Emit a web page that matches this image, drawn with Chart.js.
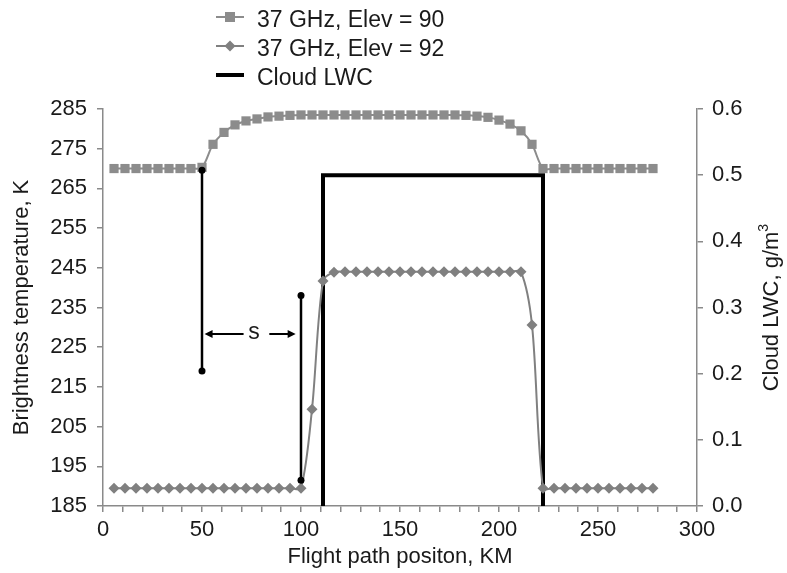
<!DOCTYPE html>
<html>
<head>
<meta charset="utf-8">
<script src="https://cdn.jsdelivr.net/npm/chart.js@4.4.1/dist/chart.umd.min.js"></script>
<style>
  html, body { margin: 0; padding: 0; background: #fff; }
  #wrap { position: relative; width: 787px; height: 573px; }
  #legend {
    position: absolute; left: 216px; top: 5px;
    font-family: "Liberation Sans", Arial, sans-serif; font-size: 23px; color: #1a1a1a;
  }
  #legend .row { display: flex; align-items: center; height: 29px; }
  #legend svg { margin-right: 13px; position: relative; top: -3px; }
</style>
</head>
<body>
<div id="wrap">
  <canvas id="chart"></canvas>
  <div id="legend"></div>
</div>
<script>
(function() {
    'use strict';

    // --- Data ---
    // flight path position of each sample (km)
    const positionKm = [5.56, 11.11, 16.67, 22.22, 27.78, 33.33, 38.89, 44.44, 50, 55.56,
        61.11, 66.67, 72.22, 77.78, 83.33, 88.89, 94.44, 100, 105.56, 111.11,
        116.67, 122.22, 127.78, 133.33, 138.89, 144.44, 150, 155.56, 161.11, 166.67,
        172.22, 177.78, 183.33, 188.89, 194.44, 200, 205.56, 211.11, 216.67, 222.22,
        227.78, 233.33, 238.89, 244.44, 250, 255.56, 261.11, 266.67, 272.22, 277.78];

    // 37 GHz, Elev = 90 (K)
    const tbElev90 = [270, 270, 270, 270, 270, 270, 270, 270, 270.3, 276.1,
        279.1, 281.0, 282.0, 282.5, 283.0, 283.2, 283.4, 283.5, 283.5, 283.5,
        283.5, 283.5, 283.5, 283.5, 283.5, 283.5, 283.5, 283.5, 283.5, 283.5,
        283.5, 283.5, 283.4, 283.2, 282.9, 282.2, 281.2, 279.5, 276.1, 270,
        270, 270, 270, 270, 270, 270, 270, 270, 270, 270];

    // 37 GHz, Elev = 92 (K)
    const tbElev92 = [189.5, 189.5, 189.5, 189.5, 189.5, 189.5, 189.5, 189.5, 189.5, 189.5,
        189.5, 189.5, 189.5, 189.5, 189.5, 189.5, 189.5, 189.5, 209.4, 241.7,
        243.9, 244, 244, 244, 244, 244, 244, 244, 244, 244,
        244, 244, 244, 244, 244, 244, 244, 244, 230.6, 189.5,
        189.5, 189.5, 189.5, 189.5, 189.5, 189.5, 189.5, 189.5, 189.5, 189.5];

    // Cloud LWC (g/m3) step
    const lwcKm = [111.11, 111.11, 222.22, 222.22];
    const lwcValues = [0, 0.5, 0.5, 0];

    // axis ticks
    const xTicks = [0, 10, 20, 30, 40, 50, 60, 70, 80, 90, 100, 110, 120, 130, 140, 150,
        160, 170, 180, 190, 200, 210, 220, 230, 240, 250, 260, 270, 280, 290, 300];
    const tbTicks = [185, 195, 205, 215, 225, 235, 245, 255, 265, 275, 285];
    const lwcTicks = [0, 0.1, 0.2, 0.3, 0.4, 0.5, 0.6];

    // "s" separation markers (km, K)
    const sMarkerKm = [50, 100];
    const sMarkerTop = [269.6, 238];
    const sMarkerBottom = [219, 191.5];
    const sArrowY = 228.3;

    const FONT = '"Liberation Sans", Arial, sans-serif';
    const AXIS_GREY = '#8a8a8a';
    const SQ_GREY = '#8c8c8c';
    const DIA_GREY = '#808080';

    function pts(xs, ys) {
        return xs.map((x, i) => ({ x: x, y: ys[i] }));
    }

    // --- Annotation plugin: separation bars, arrows and right axis title ---
    const annotations = {
        id: 'annotations',
        afterDatasetsDraw(chart) {
            const ctx = chart.ctx;
            const xs = chart.scales.x, ys = chart.scales.y;
            ctx.save();
            ctx.strokeStyle = '#000';
            ctx.fillStyle = '#000';
            ctx.lineWidth = 2.5;
            sMarkerKm.forEach((km, i) => {
                const px = xs.getPixelForValue(km);
                const top = ys.getPixelForValue(sMarkerTop[i]);
                const bot = ys.getPixelForValue(sMarkerBottom[i]);
                ctx.beginPath();
                ctx.moveTo(px, top);
                ctx.lineTo(px, bot);
                ctx.stroke();
                [top, bot].forEach(py => {
                    ctx.beginPath();
                    ctx.arc(px, py, 3.5, 0, Math.PI * 2);
                    ctx.fill();
                });
            });

            const ay = ys.getPixelForValue(sArrowY);
            const lx0 = xs.getPixelForValue(51.3), lx1 = xs.getPixelForValue(71);
            const rx0 = xs.getPixelForValue(84), rx1 = xs.getPixelForValue(97.3);
            ctx.lineWidth = 2;
            ctx.beginPath();
            ctx.moveTo(lx0 + 6, ay); ctx.lineTo(lx1, ay);
            ctx.moveTo(rx0, ay); ctx.lineTo(rx1 - 6, ay);
            ctx.stroke();
            ctx.beginPath();
            ctx.moveTo(lx0, ay); ctx.lineTo(lx0 + 8, ay - 4); ctx.lineTo(lx0 + 8, ay + 4); ctx.closePath();
            ctx.moveTo(rx1, ay); ctx.lineTo(rx1 - 8, ay - 4); ctx.lineTo(rx1 - 8, ay + 4); ctx.closePath();
            ctx.fill();

            ctx.font = '23px ' + FONT;
            ctx.textAlign = 'center';
            ctx.textBaseline = 'middle';
            ctx.fillStyle = '#1a1a1a';
            ctx.fillText('s', xs.getPixelForValue(76.2), ay - 1);

            // right axis title reads bottom to top
            const cy = (chart.chartArea.top + chart.chartArea.bottom) / 2;
            ctx.translate(772, cy);
            ctx.rotate(-Math.PI / 2);
            ctx.font = '22px ' + FONT;
            const main = 'Cloud LWC, g/m';
            const w = ctx.measureText(main).width;
            ctx.textAlign = 'left';
            ctx.fillText(main, -(w + 8) / 2, 0);
            ctx.font = '14px ' + FONT;
            ctx.fillText('3', -(w + 8) / 2 + w, -8);
            ctx.restore();
        }
    };

    function setTicks(values) {
        return scale => { scale.ticks = values.map(v => ({ value: v })); };
    }

    const tickFont = { family: FONT, size: 22 };
    const titleFont = { family: FONT, size: 22 };

    new Chart(document.getElementById('chart'), {
        type: 'line',
        data: {
            datasets: [
                {
                    label: '37 GHz, Elev = 90',
                    data: pts(positionKm, tbElev90),
                    yAxisID: 'y',
                    borderColor: SQ_GREY,
                    backgroundColor: SQ_GREY,
                    borderWidth: 2,
                    pointStyle: 'rect',
                    pointRadius: 6.5,
                    pointBorderWidth: 0,
                    tension: 0.3
                },
                {
                    label: '37 GHz, Elev = 92',
                    data: pts(positionKm, tbElev92),
                    yAxisID: 'y',
                    borderColor: DIA_GREY,
                    backgroundColor: DIA_GREY,
                    borderWidth: 2,
                    pointStyle: 'rectRot',
                    pointRadius: 5.5,
                    pointBorderWidth: 0,
                    tension: 0.3
                },
                {
                    label: 'Cloud LWC',
                    data: pts(lwcKm, lwcValues),
                    yAxisID: 'y1',
                    borderColor: '#000',
                    backgroundColor: '#000',
                    borderWidth: 4,
                    pointRadius: 0,
                    tension: 0
                }
            ]
        },
        options: {
            responsive: true,
            maintainAspectRatio: false,
            animation: false,
            layout: { padding: { top: 109, left: 0, right: 0, bottom: 0 } },
            plugins: {
                legend: { display: false },
                tooltip: { enabled: false }
            },
            scales: {
                x: {
                    type: 'linear',
                    min: 0, max: 300,
                    afterBuildTicks: setTicks(xTicks),
                    afterFit: s => { s.height = 67; },
                    grid: { drawOnChartArea: false, color: AXIS_GREY, tickLength: 6, lineWidth: 1.5 },
                    border: { color: AXIS_GREY, width: 1.5 },
                    ticks: {
                        autoSkip: false, maxRotation: 0, padding: 5,
                        color: '#1a1a1a', font: tickFont,
                        callback: v => (v % 50 === 0 ? String(v) : '')
                    },
                    title: {
                        display: true, text: 'Flight path positon, KM',
                        color: '#1a1a1a', font: titleFont, padding: { top: 0, bottom: 3 }
                    }
                },
                y: {
                    position: 'left',
                    min: 185, max: 285,
                    afterBuildTicks: setTicks(tbTicks),
                    afterFit: s => { s.width = 103; },
                    grid: { drawOnChartArea: false, color: AXIS_GREY, tickLength: 6, lineWidth: 1.5 },
                    border: { color: AXIS_GREY, width: 1.5 },
                    ticks: { padding: 10, color: '#1a1a1a', font: tickFont },
                    title: {
                        display: true, text: 'Brightness temperature, K',
                        color: '#1a1a1a', font: titleFont, padding: { top: 9, bottom: 0 }
                    }
                },
                y1: {
                    position: 'right',
                    min: 0, max: 0.6,
                    afterBuildTicks: setTicks(lwcTicks),
                    afterFit: s => { s.width = 90; },
                    grid: { drawOnChartArea: false, color: AXIS_GREY, tickLength: 6, lineWidth: 1.5 },
                    border: { color: AXIS_GREY, width: 1.5 },
                    ticks: {
                        padding: 9, color: '#1a1a1a', font: tickFont,
                        callback: v => v.toFixed(1)
                    },
                    title: { display: false }
                }
            }
        },
        plugins: [annotations]
    });

    // --- HTML legend ---
    const legendItems = [
        { text: '37 GHz, Elev = 90', color: SQ_GREY, marker: '<rect x="9" y="3" width="10" height="10"/>', lw: 2 },
        { text: '37 GHz, Elev = 92', color: DIA_GREY, marker: '<polygon points="14,2.5 19.5,8 14,13.5 8.5,8"/>', lw: 2 },
        { text: 'Cloud LWC', color: '#000', marker: '', lw: 4 }
    ];
    document.getElementById('legend').innerHTML = legendItems.map(it => `
        <div class="row">
            <svg width="28" height="16" viewBox="0 0 28 16">
                <line x1="0" y1="8" x2="28" y2="8" stroke="${it.color}" stroke-width="${it.lw}"/>
                <g fill="${it.color}">${it.marker}</g>
            </svg>
            <span>${it.text}</span>
        </div>`).join('');
})();
</script>
</body>
</html>
